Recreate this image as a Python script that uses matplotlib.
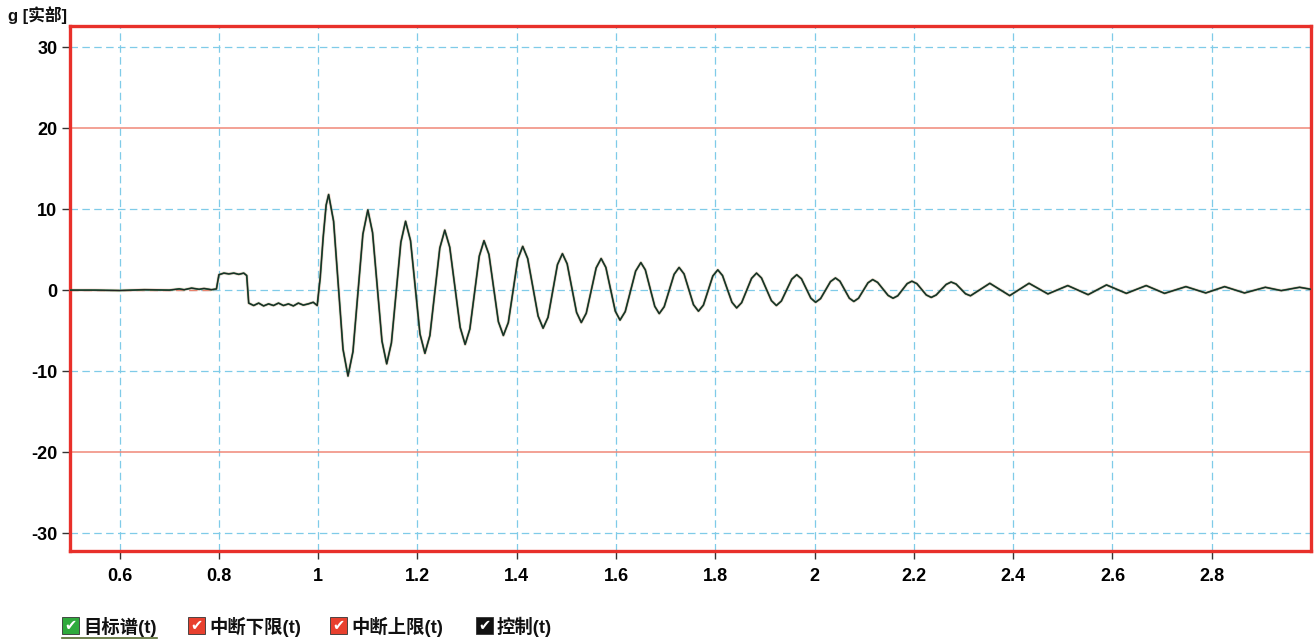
import matplotlib
matplotlib.use("Agg")
import matplotlib.pyplot as plt
from matplotlib.patches import Rectangle
from matplotlib.lines import Line2D

plt.rcParams['font.family'] = ['Liberation Sans', 'Noto Sans CJK SC', 'DejaVu Sans']
plt.rcParams['font.weight'] = 'bold'
plt.rcParams['axes.unicode_minus'] = False

t_ctrl = [0.5, 0.55, 0.6, 0.65, 0.70, 0.72, 0.73, 0.745, 0.76, 0.77, 0.785, 0.795,
          0.800, 0.81, 0.82, 0.83, 0.84, 0.85, 0.856,
          0.860, 0.87, 0.88, 0.89, 0.90, 0.91, 0.92, 0.93, 0.94, 0.95, 0.96, 0.97, 0.98, 0.99, 0.998,
          1.004, 1.010, 1.016, 1.021,
          1.031, 1.0405, 1.050, 1.060,
          1.070, 1.080, 1.090, 1.100,
          1.1095, 1.119, 1.1285, 1.138,
          1.1475, 1.157, 1.1665, 1.176,
          1.186, 1.1955, 1.205, 1.215,
          1.225, 1.235, 1.245, 1.255,
          1.265, 1.2755, 1.286, 1.296,
          1.3055, 1.315, 1.3245, 1.334,
          1.344, 1.3535, 1.363, 1.373,
          1.383, 1.3925, 1.402, 1.412,
          1.422, 1.4325, 1.443, 1.453,
          1.463, 1.4725, 1.482, 1.492,
          1.5015, 1.511, 1.5205, 1.530,
          1.540, 1.550, 1.560, 1.570,
          1.5795, 1.589, 1.5985, 1.608,
          1.6185, 1.629, 1.6395, 1.650,
          1.659, 1.6685, 1.678, 1.687,
          1.697, 1.707, 1.717, 1.727,
          1.737, 1.7465, 1.756, 1.766,
          1.776, 1.7855, 1.795, 1.805,
          1.8145, 1.824, 1.8335, 1.843,
          1.853, 1.863, 1.873, 1.883,
          1.893, 1.903, 1.913, 1.923,
          1.933, 1.9435, 1.954, 1.964,
          1.9735, 1.983, 1.9925, 2.002,
          2.012, 2.022, 2.032, 2.042,
          2.051, 2.0605, 2.070, 2.079,
          2.0885, 2.098, 2.1075, 2.117,
          2.127, 2.1375, 2.148, 2.158,
          2.1675, 2.177, 2.1865, 2.196,
          2.206, 2.2155, 2.225, 2.235,
          2.245, 2.255, 2.265, 2.275,
          2.285, 2.2945, 2.304, 2.314,
          2.353, 2.393, 2.432, 2.470, 2.510, 2.551, 2.588,
          2.628, 2.668, 2.705, 2.748, 2.788, 2.826, 2.866, 2.908, 2.940, 2.977, 3.0]
g_ctrl = [0.0, 0.0, -0.05, 0.05, 0.0, 0.15, 0.05, 0.25, 0.1, 0.2, 0.05, 0.15,
          1.9, 2.1, 2.0, 2.1, 1.95, 2.1, 1.8,
          -1.6, -1.9, -1.6, -1.95, -1.7, -1.9, -1.6, -1.9, -1.7, -1.95, -1.6, -1.85, -1.7, -1.5, -1.9,
          1.5, 6.5, 10.5, 11.8,
          8.5, 0.6, -7.3, -10.6,
          -7.6, -0.35, 6.9, 9.9,
          7.1, 0.4, -6.3, -9.1,
          -6.5, -0.3, 5.9, 8.5,
          6.1, 0.35, -5.4, -7.8,
          -5.6, -0.2, 5.2, 7.4,
          5.3, 0.35, -4.6, -6.7,
          -4.8, -0.3, 4.2, 6.1,
          4.4, 0.25, -3.9, -5.6,
          -4.0, -0.1, 3.8, 5.4,
          3.9, 0.35, -3.2, -4.7,
          -3.35, -0.1, 3.15, 4.5,
          3.25, 0.25, -2.75, -4.0,
          -2.85, -0.05, 2.75, 3.9,
          2.8, 0.1, -2.6, -3.7,
          -2.65, -0.15, 2.35, 3.4,
          2.5, 0.25, -2.0, -2.9,
          -2.05, -0.05, 1.95, 2.8,
          2.0, 0.1, -1.8, -2.6,
          -1.85, -0.05, 1.75, 2.5,
          1.8, 0.15, -1.5, -2.2,
          -1.55, -0.05, 1.45, 2.1,
          1.5, 0.1, -1.3, -1.9,
          -1.35, 0.0, 1.35, 1.9,
          1.4, 0.2, -1.0, -1.5,
          -1.05, 0.0, 1.05, 1.5,
          1.1, 0.05, -1.0, -1.4,
          -1.0, -0.05, 0.9, 1.3,
          0.95, 0.15, -0.65, -1.0,
          -0.7, 0.05, 0.8, 1.1,
          0.8, 0.1, -0.6, -0.9,
          -0.6, 0.05, 0.7, 1.0,
          0.75, 0.15, -0.45, -0.7,
          0.84, -0.68, 0.84, -0.47, 0.56, -0.56, 0.64,
          -0.4, 0.56, -0.4, 0.43, -0.35, 0.43, -0.35, 0.35, -0.06, 0.35, 0.1]

g_lower = -20
g_upper = 20
t_quiet = [0.5, 0.79]

x_ticks = [0.6, 0.8, 1.0, 1.2, 1.4, 1.6, 1.8, 2.0, 2.2, 2.4, 2.6, 2.8]
y_ticks = [-30, -20, -10, 0, 10, 20, 30]
legend_labels = ['目标谱(t)', '中断下限(t)', '中断上限(t)', '控制(t)']
legend_colors = ['#2faa3c', '#e8402e', '#e8402e', '#111111']

W, H = 1314, 642
fig = plt.figure(figsize=(W / 100, H / 100), dpi=100)
ax = fig.add_axes([70 / W, 1 - 551 / H, (1311 - 70) / W, (551 - 26) / H])

grid_kw = dict(color='#7fcbe8', lw=0.9, ls=(0, (6, 3.5)))
for x in x_ticks:
    ax.axvline(x, zorder=0, **grid_kw)
for y in y_ticks:
    if y in (g_lower, g_upper):
        continue
    ax.axhline(y, zorder=0, **grid_kw)

ax.plot(t_quiet, [0, 0], color='#e8806a', lw=1.0, ls=(0, (6, 3.5)), zorder=1)
ax.axhline(g_lower, color='#f08878', lw=1.1, zorder=1)
ax.axhline(g_upper, color='#f08878', lw=1.1, zorder=1)

ax.plot(t_ctrl, g_ctrl, color='#f2a090', lw=2.4, alpha=0.35, zorder=2)
ax.plot(t_ctrl, g_ctrl, color='#1f7a4a', lw=1.3, zorder=3)
ax.plot(t_ctrl, g_ctrl, color='#222222', lw=0.8, zorder=4)

ax.set_xlim(0.5, 3.0)
ax.set_ylim(-32.2, 32.6)
ax.set_xticks(x_ticks)
ax.set_xticklabels(['%g' % x for x in x_ticks])
ax.set_yticks(y_ticks)
ax.tick_params(axis='both', direction='out', length=6, width=1, color='#333333',
               labelsize=13)
ax.tick_params(axis='x', pad=6)
ax.tick_params(axis='y', pad=3)
for lab in ax.get_xticklabels() + ax.get_yticklabels():
    lab.set_fontweight('bold')

for s in ax.spines.values():
    s.set_color('#e8302a')
    s.set_linewidth(2.4)

fig.text(8 / W, 1 - 21 / H, 'g [实部]', fontsize=12, fontweight='bold',
         ha='left', va='baseline', color='#111111')

# legend strip with check boxes
box_x = [62, 188, 330, 476]
for bx, lab, col in zip(box_x, legend_labels, legend_colors):
    fig.add_artist(Rectangle((bx / W, 1 - 634 / H), 17 / W, 17 / H,
                             transform=fig.transFigure, facecolor=col,
                             edgecolor='#333333', lw=0.6))
    fig.text((bx + 8.5) / W, 1 - 625.5 / H, '✔', fontsize=10.5, color='white',
             ha='center', va='center', family='DejaVu Sans')
    fig.text((bx + 21) / W, 1 - 633 / H, lab, fontsize=13.2, fontweight='bold',
             ha='left', va='baseline', color='#111111')
fig.add_artist(Line2D([62 / W, 157 / W], [1 - 638 / H, 1 - 638 / H],
                      transform=fig.transFigure, color='#556b2f', lw=1.2))

fig.savefig('out.png', dpi=100)
